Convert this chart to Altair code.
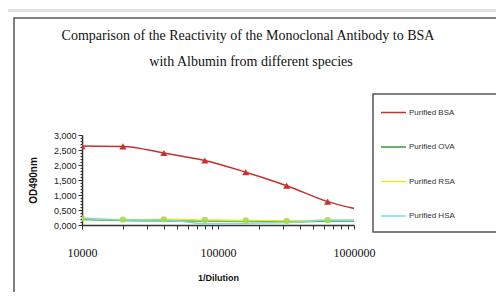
import altair as alt
import pandas as pd

dilutions = [10000, 20000, 40000, 80000, 160000, 320000, 640000, 1280000]
series_names = ["Purified BSA", "Purified OVA", "Purified RSA", "Purified HSA"]
bsa = [2.63, 2.62, 2.40, 2.15, 1.76, 1.31, 0.78, 0.45]
ova = [0.18, 0.15, 0.14, 0.13, 0.13, 0.10, 0.13, 0.14]
rsa = [0.22, 0.18, 0.19, 0.17, 0.15, 0.14, 0.16, 0.17]
hsa = [0.23, 0.17, 0.17, 0.04, 0.06, 0.08, 0.16, 0.16]
colors = ["#c8302c", "#3a9a3a", "#e8e82a", "#7fd8e6"]
title_lines = ["Comparison of the Reactivity of the Monoclonal Antibody to BSA",
               "with Albumin from different species"]

x_ticks = [10000, 20000, 30000, 40000, 50000, 60000, 70000, 80000, 90000,
           100000, 200000, 300000, 400000, 500000, 600000, 700000, 800000, 900000,
           1000000]
y_major = [0, 0.5, 1.0, 1.5, 2.0, 2.5, 3.0]
y_minor = [round(i * 0.1, 1) for i in range(31)]

rows = []
for name, vals in zip(series_names, [bsa, ova, rsa, hsa]):
    for d, v in zip(dilutions, vals):
        rows.append({"dilution": d, "od": v, "series": name})
df = pd.DataFrame(rows)

xscale = alt.Scale(type="log", domain=[10000, 1000000])
yscale = alt.Scale(domain=[0, 3])

x_axis = alt.Axis(
    values=x_ticks, title="1/Dilution", grid=False, labelFlush=False,
    labelExpr="(datum.value == 10000 || datum.value == 100000 || datum.value == 1000000) ? format(datum.value, 'd') : ''",
    labelOverlap=False, labelFont="Liberation Serif", labelFontSize=12, labelColor="#111",
    labelPadding=18, tickSize=4, tickColor="#333", domainColor="#333", domainWidth=1.5,
    titleFont="Liberation Sans", titleFontSize=9, titleFontWeight="bold", titleColor="#111",
    titlePadding=15,
)
y_axis = alt.Axis(
    values=y_major, title="OD490nm", grid=False, labelFlush=False,
    labelExpr="replace(format(datum.value, '.3f'), '.', ',')",
    labelOverlap=False, labelFont="Liberation Sans", labelFontSize=9, labelColor="#222",
    labelPadding=2, tickSize=4, tickColor="#333", domainColor="#333", domainWidth=1.5,
    titleFont="Liberation Sans", titleFontSize=10, titleFontWeight="bold", titleColor="#111",
    titleX=-49, titleY=45, titleAngle=270, titleAlign="center", titleBaseline="middle",
)
y_axis_minor = alt.Axis(
    values=y_minor, title=None, grid=False, labels=False, domain=False, orient="left",
    tickSize=2, tickColor="#333",
)

color = alt.Color(
    "series:N",
    scale=alt.Scale(domain=series_names, range=colors),
    sort=series_names,
    legend=alt.Legend(
        title=None, orient="none", legendX=298, legendY=-36, padding=0,
        symbolType="stroke", symbolSize=625, symbolStrokeWidth=1.5,
        labelFont="Liberation Sans", labelFontSize=8, labelColor="#333", labelOffset=2,
        rowPadding=16.5,
    ),
)

base = alt.Chart(df)
lines = base.mark_line(interpolate="monotone", strokeWidth=1.5, clip=True).encode(
    x=alt.X("dilution:Q", scale=xscale, axis=x_axis),
    y=alt.Y("od:Q", scale=yscale, axis=y_axis),
    color=color,
)
bsa_pts = base.transform_filter(alt.datum.series == "Purified BSA").mark_point(
    shape="triangle-up", filled=True, size=50, color="#c8302c", opacity=1, clip=True
).encode(x=alt.X("dilution:Q", scale=xscale, axis=None),
         y=alt.Y("od:Q", scale=yscale, axis=y_axis_minor))
rsa_pts = base.transform_filter(alt.datum.series == "Purified RSA").mark_point(
    shape="circle", filled=True, size=40, color="#a8d850", opacity=0.9, clip=True
).encode(x=alt.X("dilution:Q", scale=xscale, axis=None),
         y=alt.Y("od:Q", scale=yscale, axis=None))

deco = alt.Data(values=[{"k": 1}])
outer = alt.Chart(deco).mark_rect(fill=None, stroke="#e2e2e2", strokeWidth=3).encode(
    x=alt.value(-75.5), x2=alt.value(420), y=alt.value(-124.5), y2=alt.value(300))
frame = alt.Chart(deco).mark_rect(fill=None, stroke="#555", strokeWidth=1.5).encode(
    x=alt.value(-68), x2=alt.value(418), y=alt.value(-117), y2=alt.value(300))
legend_box = alt.Chart(deco).mark_rect(fill=None, stroke="#555", strokeWidth=1.5).encode(
    x=alt.value(291), x2=alt.value(416), y=alt.value(-41), y2=alt.value(97))

title_df = pd.DataFrame({"line": title_lines, "i": [0, 1]})
title1 = alt.Chart(title_df).transform_filter(alt.datum.i == 0).mark_text(
    font="Liberation Serif", fontSize=14, color="#111", align="center", baseline="middle"
).encode(text="line:N", x=alt.value(166), y=alt.value(-99))
title2 = alt.Chart(title_df).transform_filter(alt.datum.i == 1).mark_text(
    font="Liberation Serif", fontSize=14, color="#111", align="center", baseline="middle"
).encode(text="line:N", x=alt.value(169), y=alt.value(-73))

chart = alt.layer(outer, frame, legend_box, title1, title2, lines, bsa_pts, rsa_pts).resolve_axis(
    y="independent", x="independent"
).properties(
    width=272, height=90,
    autosize=alt.AutoSizeParams(type="none"),
    padding={"left": 74, "top": 127, "right": 142, "bottom": 67},
    background="white",
).configure_view(strokeWidth=0)

chart.save("out.html", embed_options={"renderer": "svg", "actions": False})
